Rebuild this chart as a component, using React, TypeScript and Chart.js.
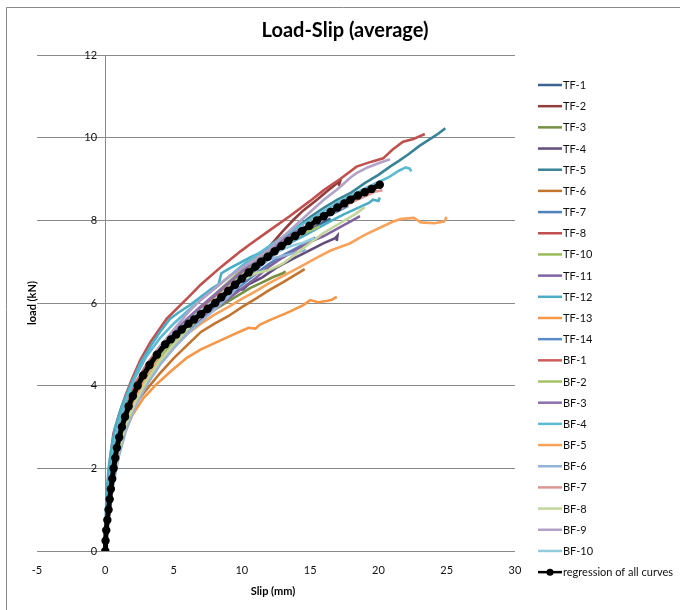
import React, { useEffect, useRef } from "react";
import { Chart, registerables } from "chart.js";

Chart.register(...registerables);

type P = [number, number];

const TITLE = "Load-Slip (average)";
const X_TITLE = "Slip (mm)";
const Y_TITLE = "load (kN)";

const xTickLabels = [-5, 0, 5, 10, 15, 20, 25, 30];
const yTickLabels = [0, 2, 4, 6, 8, 10, 12];

const seriesNames = [
  "TF-1", "TF-2", "TF-3", "TF-4", "TF-5", "TF-6", "TF-7", "TF-8", "TF-10", "TF-11", "TF-12", "TF-13", "TF-14",
  "BF-1", "BF-2", "BF-3", "BF-4", "BF-5", "BF-6", "BF-7", "BF-8", "BF-9", "BF-10",
];
const regressionName = "regression of all curves";

const seriesColors = [
  "#3C6290", "#923D3A", "#769043", "#614C7B", "#398397", "#C3742F", "#4F81BD", "#C0504D", "#9BBB59", "#8064A2", "#4BACC6", "#F79646", "#5A8AC6",
  "#CD5D5A", "#A5C266", "#8B70AB", "#5CBAD2", "#F9A25B", "#95B3D7", "#D99694", "#C3D69B", "#B3A2C7", "#93CDDD",
];

const TF1: P[] = [[0,0],[0.05,0.3],[0.15,0.62],[0.3,1.0],[0.6,1.75],[1.0,2.45],[1.5,3.05],[2.2,3.66],[3.0,4.15],[4.0,4.64],[5.0,5.04],[6.0,5.4],[7.0,5.67],[8.0,5.96],[9.0,6.23],[10.0,6.52],[11.0,6.8],[12.0,7.07],[13.0,7.36],[14.0,7.58],[15.0,7.8],[16.0,7.96],[16.5,8.04]];
const TF2: P[] = [[0,0],[0.05,0.5],[0.15,0.92],[0.3,1.38],[0.6,2.1],[1.0,2.8],[1.5,3.36],[2.2,3.9],[3.0,4.32],[4.0,4.72],[5.0,5.06],[6.0,5.36],[7.0,5.63],[8.0,5.94],[9.0,6.3],[10.0,6.66],[11.0,6.98],[12.0,7.36],[13.0,7.74],[13.8,8.02],[14.5,8.24],[15.5,8.5],[16.3,8.72],[16.9,8.88],[17.2,8.95],[17.1,8.83]];
const TF3: P[] = [[0,0],[0.05,0.3],[0.15,0.64],[0.3,1.05],[0.6,1.8],[1.0,2.45],[1.5,3.0],[2.2,3.57],[3.0,4.05],[4.0,4.58],[5.0,5.0],[6.0,5.34],[7.0,5.6],[8.0,5.84],[9.0,6.04],[10.0,6.24],[10.6,6.36],[11.5,6.5],[12.3,6.63],[13.0,6.72],[13.2,6.77]];
const TF4: P[] = [[0,0],[0.05,0.35],[0.15,0.7],[0.3,1.1],[0.6,1.86],[1.0,2.55],[1.5,3.15],[2.2,3.72],[3.0,4.2],[4.0,4.7],[5.0,5.1],[6.0,5.42],[6.95,5.67],[8.2,6.07],[9.5,6.3],[10.1,6.33],[10.5,6.45],[11.5,6.62],[12.5,6.85],[13.8,7.08],[15.0,7.28],[16.0,7.45],[16.8,7.56],[17.0,7.63],[16.95,7.5]];
const TF5: P[] = [[0,0],[0.05,0.45],[0.15,0.86],[0.3,1.3],[0.6,2.1],[1.0,2.8],[1.5,3.4],[2.2,3.95],[3.0,4.4],[4.0,4.88],[5.0,5.25],[6.0,5.55],[7.0,5.85],[8.0,6.12],[9.0,6.42],[10.0,6.72],[11.0,7.0],[12.0,7.27],[13.0,7.55],[14.0,7.82],[15.0,8.08],[16.0,8.3],[17.0,8.5],[18.0,8.67],[18.4,8.76],[19.0,8.9],[20.0,9.1],[20.85,9.3],[21.5,9.44],[22.2,9.6],[23.0,9.8],[23.8,9.97],[24.4,10.1],[24.9,10.23]];
const TF6: P[] = [[0,0],[0.1,0.6],[0.3,1.3],[0.6,2.0],[1.0,2.6],[1.5,3.1],[2.2,3.55],[3.0,3.9],[4.0,4.3],[5.0,4.66],[6.0,4.98],[7.0,5.3],[8.0,5.5],[9.0,5.68],[10.0,5.9],[11.0,6.1],[12.0,6.31],[13.0,6.5],[14.0,6.7],[14.6,6.82]];
const TF7: P[] = [[0,0],[0.05,0.3],[0.15,0.6],[0.3,1.0],[0.6,1.7],[1.0,2.4],[1.5,3.0],[2.2,3.6],[3.0,4.1],[4.0,4.6],[5.0,5.0],[6.0,5.33],[7.0,5.62],[8.0,5.9],[9.0,6.17],[10.0,6.44],[11.0,6.7],[12.0,6.95],[13.0,7.15],[14.0,7.33],[15.0,7.5],[15.4,7.58]];
const TF8: P[] = [[0,0],[0.05,0.7],[0.15,1.4],[0.3,2.1],[0.6,2.85],[1.0,3.3],[1.5,3.78],[2.0,4.2],[2.56,4.62],[3.3,5.05],[4.5,5.62],[5.5,5.95],[6.2,6.18],[7.0,6.45],[8.5,6.88],[9.9,7.25],[10.6,7.42],[12.0,7.75],[13.5,8.1],[15.0,8.47],[16.0,8.73],[17.2,9.0],[18.4,9.3],[19.5,9.42],[20.35,9.5],[21.0,9.7],[21.8,9.9],[22.5,9.96],[23.4,10.09]];
const TF10: P[] = [[0,0],[0.05,0.45],[0.15,0.85],[0.3,1.3],[0.6,2.05],[1.0,2.75],[1.5,3.35],[2.2,3.9],[3.0,4.38],[4.0,4.85],[5.0,5.24],[6.0,5.58],[7.0,5.9],[8.0,6.2],[9.0,6.5],[10.0,6.8],[11.0,7.07],[12.0,7.32],[13.0,7.5],[14.0,7.62],[14.4,7.67]];
const TF11: P[] = [[0,0],[0.05,0.4],[0.15,0.8],[0.3,1.25],[0.6,2.0],[1.0,2.7],[1.5,3.3],[2.2,3.85],[3.0,4.32],[4.0,4.78],[5.0,5.12],[6.0,5.4],[7.0,5.63],[8.0,5.85],[9.0,6.1],[10.0,6.35],[11.0,6.6],[12.0,6.88],[13.0,7.1],[14.0,7.3],[15.0,7.48],[16.0,7.62],[17.0,7.8],[18.0,7.98],[18.65,8.1]];
const TF12: P[] = [[0,0],[0.03,0.8],[0.1,1.4],[0.24,2.0],[0.45,2.5],[0.73,3.0],[1.2,3.5],[1.83,4.0],[2.56,4.54],[3.4,5.0],[4.0,5.3],[4.75,5.62],[5.5,5.8],[6.2,5.95],[7.0,6.15],[7.8,6.35],[8.3,6.45],[8.5,6.72],[9.1,6.84],[10.6,7.1],[11.8,7.28],[13.5,7.45],[14.5,7.62],[15.5,7.8],[16.5,7.98],[17.5,8.15],[18.5,8.3],[19.3,8.42],[19.6,8.5],[20.0,8.47],[20.1,8.55]];
const TF13: P[] = [[0,0],[0.1,0.5],[0.3,1.1],[0.6,1.9],[1.0,2.5],[1.4,2.85],[2.0,3.3],[2.8,3.7],[3.7,4.02],[4.8,4.35],[6.0,4.68],[7.0,4.88],[8.0,5.03],[9.0,5.18],[10.0,5.33],[10.5,5.4],[11.0,5.38],[11.3,5.47],[12.0,5.58],[13.0,5.72],[13.5,5.79],[14.5,5.95],[15.0,6.07],[15.6,6.02],[16.2,6.05],[16.6,6.08],[16.95,6.15]];
const TF14: P[] = [[0,0],[0.05,0.35],[0.15,0.7],[0.3,1.15],[0.6,1.9],[1.0,2.6],[1.5,3.2],[2.2,3.78],[3.0,4.25],[4.0,4.75],[5.0,5.12],[6.0,5.42],[7.0,5.72],[8.0,6.0],[9.0,6.3],[10.0,6.58],[11.0,6.85],[12.0,7.12],[13.0,7.38],[14.0,7.62],[15.0,7.85],[16.0,8.05],[17.0,8.22],[17.8,8.35]];
const BF1: P[] = [[0,0],[0.05,0.5],[0.15,0.95],[0.3,1.45],[0.6,2.2],[1.0,2.9],[1.5,3.5],[2.2,4.05],[3.0,4.5],[4.0,4.95],[5.0,5.3],[6.0,5.6],[7.0,5.88],[8.0,6.15],[9.0,6.45],[10.0,6.75],[11.0,7.02],[12.0,7.3],[12.5,7.42]];
const BF2: P[] = [[0,0],[0.05,0.35],[0.15,0.7],[0.3,1.12],[0.6,1.85],[1.0,2.55],[1.5,3.15],[2.2,3.72],[3.0,4.22],[4.0,4.7],[5.0,5.1],[6.0,5.45],[7.0,5.78],[8.0,6.08],[9.0,6.38],[10.0,6.68],[11.0,6.95],[12.0,7.2],[13.0,7.42],[14.0,7.6],[15.0,7.75],[15.7,7.85]];
const BF3: P[] = [[0,0],[0.05,0.45],[0.15,0.85],[0.3,1.3],[0.6,2.1],[1.0,2.8],[1.5,3.4],[2.2,3.95],[3.0,4.45],[4.0,4.92],[5.0,5.3],[6.0,5.62],[7.0,5.92],[8.0,6.2],[9.0,6.48],[10.0,6.76],[11.0,7.02],[12.0,7.28],[13.0,7.52],[14.0,7.74],[14.6,7.86]];
const BF4: P[] = [[0,0],[0.05,0.6],[0.15,1.1],[0.3,1.7],[0.6,2.45],[1.0,3.1],[1.5,3.65],[2.2,4.2],[3.0,4.7],[4.0,5.15],[5.0,5.5],[6.0,5.8],[7.0,6.08],[8.0,6.35],[9.0,6.62],[10.0,6.9],[11.0,7.14],[12.0,7.38],[13.0,7.6],[14.0,7.82],[15.0,8.02],[16.0,8.22],[17.0,8.42],[18.0,8.6],[19.0,8.77],[20.1,8.94],[20.8,9.05],[21.5,9.2],[22.0,9.28],[22.3,9.25],[22.4,9.18]];
const BF5: P[] = [[0,0],[0.1,0.5],[0.3,1.1],[0.55,1.7],[0.9,2.4],[1.4,3.0],[2.0,3.55],[2.8,4.05],[3.8,4.55],[5.0,4.95],[6.0,5.25],[7.0,5.5],[8.0,5.72],[9.0,5.9],[10.0,6.1],[11.0,6.28],[12.0,6.48],[13.0,6.65],[14.3,6.88],[15.5,7.1],[16.5,7.27],[17.9,7.44],[19.0,7.65],[20.3,7.85],[21.0,7.96],[21.6,8.03],[22.6,8.06],[23.1,7.95],[24.1,7.93],[24.8,7.97],[25.0,8.08]];
const BF6: P[] = [[0,0],[0.05,0.25],[0.15,0.55],[0.3,0.95],[0.6,1.65],[1.0,2.3],[1.5,2.9],[2.2,3.5],[3.0,4.0],[4.0,4.5],[5.0,4.9],[6.0,5.25],[7.0,5.55],[8.0,5.84],[9.0,6.15],[10.0,6.5],[10.7,6.78],[11.3,6.98],[12.5,7.1],[13.5,7.18],[14.7,7.28]];
const BF7: P[] = [[0,0],[0.05,0.4],[0.15,0.75],[0.3,1.2],[0.6,1.95],[1.0,2.65],[1.5,3.25],[2.2,3.82],[3.0,4.3],[4.0,4.8],[5.0,5.15],[6.0,5.45],[7.0,5.72],[8.0,5.98],[9.0,6.27],[10.0,6.56],[11.0,6.85],[12.0,7.12],[13.0,7.37],[14.0,7.6],[15.0,7.83],[16.0,8.05],[17.0,8.25],[18.0,8.43],[19.0,8.58],[19.8,8.7],[20.3,8.73]];
const BF8: P[] = [[0,0],[0.05,0.3],[0.15,0.6],[0.3,1.0],[0.6,1.75],[1.0,2.45],[1.5,3.05],[2.2,3.6],[3.0,4.1],[4.0,4.6],[5.0,5.0],[6.0,5.35],[7.0,5.68],[8.0,6.0],[9.0,6.3],[10.0,6.55],[11.0,6.72],[12.0,6.8],[13.0,6.95],[14.0,7.2],[15.0,7.45],[16.0,7.7],[17.2,7.93],[18.3,8.15],[19.0,8.32]];
const BF9: P[] = [[0,0],[0.05,0.45],[0.15,0.85],[0.3,1.3],[0.6,2.05],[1.0,2.75],[1.5,3.38],[2.2,3.95],[3.0,4.45],[4.0,4.95],[5.0,5.35],[6.0,5.75],[7.0,6.08],[8.2,6.4],[9.0,6.62],[10.0,6.85],[11.0,7.05],[12.0,7.3],[13.0,7.6],[14.0,7.9],[15.0,8.2],[16.0,8.5],[17.0,8.75],[18.0,9.05],[18.4,9.14],[19.2,9.28],[20.0,9.38],[20.85,9.48]];
const BF10: P[] = [[0,0],[0.05,0.5],[0.15,0.9],[0.3,1.35],[0.6,2.12],[1.0,2.82],[1.5,3.42],[2.2,3.96],[3.0,4.42],[4.0,4.88],[5.0,5.24],[6.0,5.54],[7.0,5.82],[8.0,6.08],[9.0,6.36],[10.0,6.64],[11.0,6.9],[12.0,7.12],[13.0,7.3],[13.8,7.4],[14.5,7.46],[15.3,7.58]];

const REGRESSION: P[] = [[0,0],[0.02,0.25],[0.07,0.5],[0.15,0.75],[0.24,1.0],[0.32,1.25],[0.41,1.5],[0.51,1.75],[0.61,2.0],[0.73,2.25],[0.85,2.5],[1.02,2.75],[1.22,3.0],[1.45,3.25],[1.71,3.5],[2.02,3.75],[2.37,4.0],[2.78,4.25],[3.24,4.5],[3.78,4.75],[4.39,5.0],[4.8,5.12],[5.2,5.24],[5.6,5.36],[6.1,5.5],[6.5,5.6],[7.0,5.73],[7.5,5.86],[8.05,6.0],[8.5,6.14],[9.0,6.29],[9.5,6.44],[10.0,6.59],[10.5,6.74],[11.0,6.88],[11.4,7.0],[11.9,7.12],[12.4,7.25],[12.9,7.38],[13.4,7.5],[13.9,7.62],[14.4,7.74],[14.95,7.87],[15.5,8.0],[16.0,8.1],[16.5,8.2],[17.0,8.31],[17.5,8.41],[17.95,8.5],[18.5,8.6],[19.0,8.68],[19.5,8.76],[20.1,8.86]];

const seriesData: P[][] = [TF1, TF2, TF3, TF4, TF5, TF6, TF7, TF8, TF10, TF11, TF12, TF13, TF14, BF1, BF2, BF3, BF4, BF5, BF6, BF7, BF8, BF9, BF10];

const FONT = "Lato, 'Open Sans', sans-serif";
const GRID = "#8a8a8a";

const decorPlugin = {
  id: "decor",
  afterDraw(chart: any) {
    const ctx: CanvasRenderingContext2D = chart.ctx;
    ctx.save();
    // outer chart frame (only left and top edges fall inside this view)
    ctx.strokeStyle = GRID;
    ctx.lineWidth = 1;
    ctx.beginPath();
    ctx.moveTo(6.5, 700);
    ctx.lineTo(6.5, 7.5);
    ctx.lineTo(700, 7.5);
    ctx.stroke();

    ctx.fillStyle = "#000";
    ctx.textAlign = "center";
    ctx.textBaseline = "middle";
    ctx.font = `bold 20px ${FONT}`;
    ctx.fillText(TITLE, 345, 31);

    ctx.font = `bold 11px ${FONT}`;
    ctx.fillText(X_TITLE, 273, 591);
    ctx.save();
    ctx.translate(32, 303);
    ctx.rotate(-Math.PI / 2);
    ctx.fillText(Y_TITLE, 0, 0);
    ctx.restore();

    // legend, built from the chart's datasets
    const ds = chart.data.datasets;
    const x0 = 538, x1 = 562, top = 85, step = 21.18;
    ctx.textAlign = "left";
    ctx.font = `11px ${FONT}`;
    ds.forEach((d: any, i: number) => {
      const y = top + i * step;
      ctx.strokeStyle = d.borderColor;
      ctx.lineWidth = d.pointRadius > 0 ? 2.5 : 2.5;
      ctx.beginPath();
      ctx.moveTo(x0, y);
      ctx.lineTo(x1, y);
      ctx.stroke();
      if (d.pointRadius > 0) {
        ctx.fillStyle = d.pointBackgroundColor;
        ctx.beginPath();
        ctx.arc((x0 + x1) / 2, y, 3.5, 0, Math.PI * 2);
        ctx.fill();
      }
      ctx.fillStyle = "#111";
      ctx.fillText(d.label, x1 + 1, y + 0.5);
    });
    ctx.restore();
  },
};

export default function App() {
  const ref = useRef<HTMLCanvasElement | null>(null);
  useEffect(() => {
    if (!ref.current) return;
    const datasets: any[] = seriesData.map((pts, i) => ({
      label: seriesNames[i],
      data: pts.map(([x, y]) => ({ x, y })),
      showLine: true,
      borderColor: seriesColors[i],
      backgroundColor: seriesColors[i],
      borderWidth: 2.6,
      pointRadius: 0,
      pointHoverRadius: 0,
      tension: 0,
      order: -i,
    }));
    datasets.push({
      label: regressionName,
      data: REGRESSION.map(([x, y]) => ({ x, y })),
      showLine: true,
      borderColor: "#000",
      backgroundColor: "#000",
      pointBackgroundColor: "#000",
      pointBorderColor: "#000",
      borderWidth: 5,
      pointRadius: 4.2,
      pointBorderWidth: 0,
      tension: 0,
      order: -100,
    });
    const chart = new Chart(ref.current, {
      type: "scatter",
      data: { datasets },
      options: {
        animation: false,
        responsive: false,
        layout: { padding: { left: 37, right: 165, top: 55, bottom: 19.8 } },
        plugins: {
          legend: { display: false },
          title: { display: false },
          tooltip: { enabled: false },
        },
        scales: {
          x: {
            type: "linear",
            position: "bottom",
            min: xTickLabels[0],
            max: xTickLabels[xTickLabels.length - 1],
            ticks: { stepSize: xTickLabels[1] - xTickLabels[0], padding: 13, color: "#111", font: { family: FONT, size: 11 } },
            grid: { display: false, drawTicks: false },
            border: { display: false },
          },
          y: {
            type: "linear",
            position: { x: 0 } as any,
            min: yTickLabels[0],
            max: yTickLabels[yTickLabels.length - 1],
            ticks: {
              stepSize: yTickLabels[1] - yTickLabels[0],
              color: "#111",
              font: { family: FONT, size: 11 },
              callback: (v: any) => `${v}\u2003`,
            },
            grid: { color: GRID, lineWidth: 1, drawTicks: false },
            border: { display: true, color: GRID, width: 1 },
          },
        },
      },
      plugins: [decorPlugin],
    });
    return () => chart.destroy();
  }, []);
  return (
    <div style={{ position: "absolute", left: 0, top: 0, width: 680, height: 610, background: "#fff" }}>
      <canvas ref={ref} width={680} height={610} style={{ display: "block" }} />
    </div>
  );
}
